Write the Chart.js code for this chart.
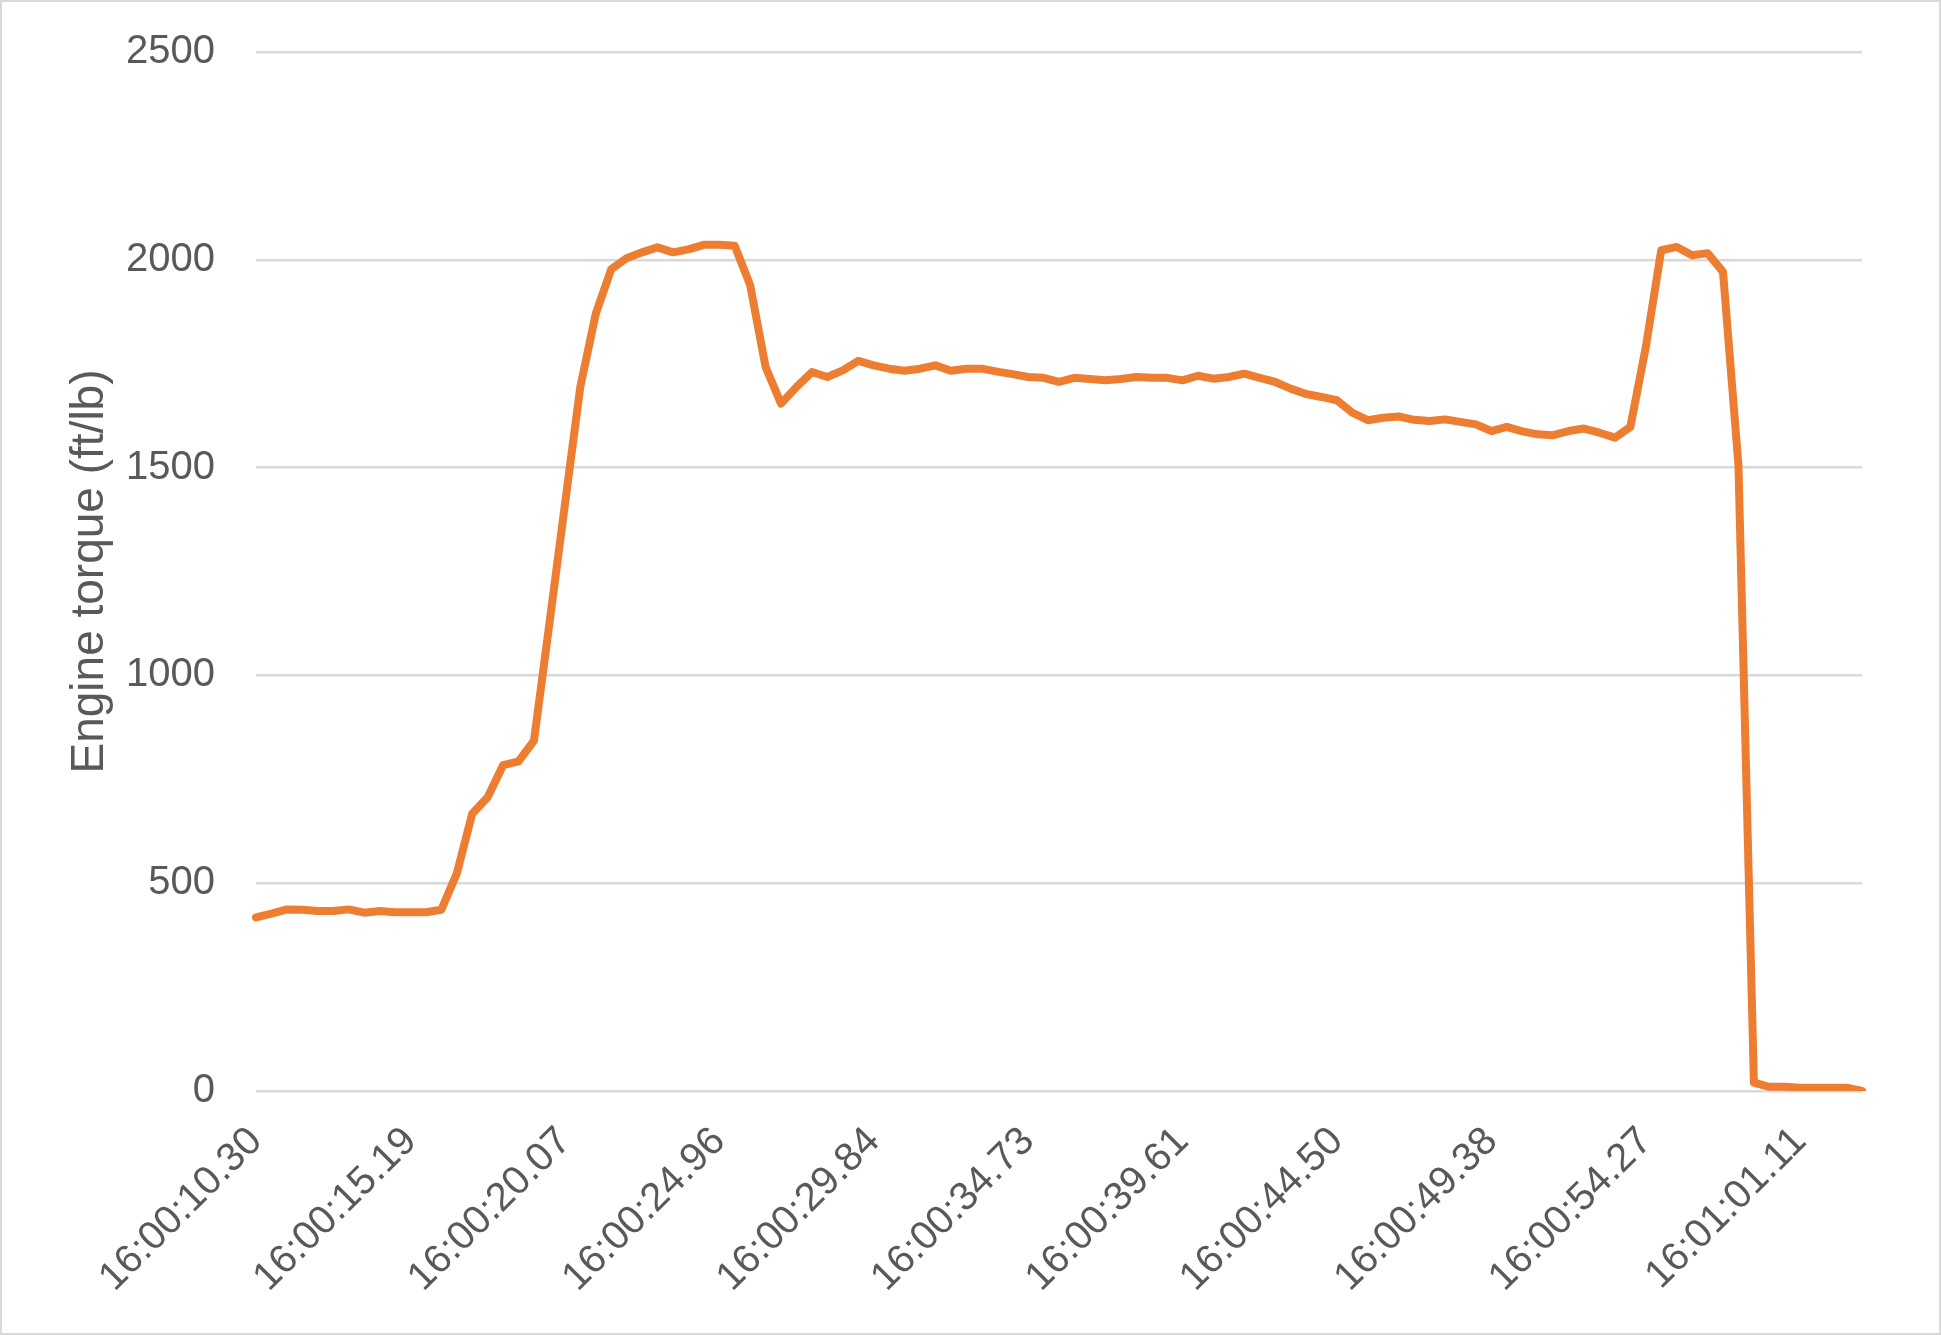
<!DOCTYPE html>
<html>
<head>
<meta charset="utf-8">
<title>Engine torque</title>
<script src="https://cdn.jsdelivr.net/npm/chart.js@4.4.1/dist/chart.umd.min.js"></script>
<style>
    html, body { margin: 0; padding: 0; background: #ffffff; }
    canvas { display: block; }
</style>
</head>
<body>
<canvas id="torqueChart" width="1941" height="1335"></canvas>
<script>
const tickLabels = ['16:00:10.30', '16:00:15.19', '16:00:20.07', '16:00:24.96', '16:00:29.84', '16:00:34.73',
    '16:00:39.61', '16:00:44.50', '16:00:49.38', '16:00:54.27', '16:01:01.11'];

// engine torque per sample (ft/lb)
const torque = [
    418, 427, 437, 436, 433, 433, 437, 429, 433, 430,
    430, 430, 436, 523, 667, 707, 784, 793, 843, 1125,
    1410, 1694, 1870, 1977, 2004, 2018, 2030, 2018, 2025, 2036,
    2036, 2034, 1939, 1742, 1654, 1694, 1730, 1718, 1734, 1757,
    1746, 1738, 1733, 1738, 1746, 1733, 1738, 1738, 1731, 1725,
    1718, 1716, 1706, 1716, 1713, 1710, 1713, 1718, 1716, 1716,
    1710, 1721, 1714, 1718, 1726, 1716, 1706, 1690, 1677, 1670,
    1662, 1632, 1614, 1620, 1623, 1615, 1612, 1616, 1610, 1604,
    1588, 1598, 1587, 1580, 1578, 1588, 1594, 1584, 1572, 1598,
    1790, 2023, 2031, 2011, 2016, 1971, 1505, 20, 10, 10,
    8, 8, 8, 8, 0
];

const labelEvery = 10;
const yMin = 0;
const yMax = 2500;
const yStep = 500;

const textColor = '#595959';
const gridColor = '#d9d9d9';
const fontFamily = '"Liberation Sans", Arial, sans-serif';

// white background and the thin frame round the whole picture
const framePlugin = {
    id: 'frame',
    beforeDraw: function(chart) {
        const c = chart.ctx;
        c.save();
        c.fillStyle = '#ffffff';
        c.fillRect(0, 0, chart.width, chart.height);
        c.strokeStyle = gridColor;
        c.lineWidth = 2;
        c.strokeRect(1, 1, chart.width - 2, chart.height - 2);
        c.restore();
    }
};

const ctx = document.getElementById('torqueChart').getContext('2d');
const torqueChart = new Chart(ctx, {
    type: 'line',
    data: {
        labels: torque.map(function(v, i) { return i; }),
        datasets: [{
            label: 'Engine torque',
            data: torque,
            borderColor: '#ed7d31',
            borderWidth: 8,
            borderJoinStyle: 'round',
            borderCapStyle: 'round',
            pointRadius: 0,
            tension: 0,
            fill: false
        }]
    },
    options: {
        responsive: false,
        devicePixelRatio: 1,
        animation: false,
        layout: {
            padding: { left: 0, right: 79, top: 52, bottom: 0 }
        },
        plugins: {
            legend: { display: false },
            tooltip: { enabled: false }
        },
        scales: {
            x: {
                type: 'category',
                offset: false,
                grid: { display: false, drawTicks: false },
                border: { display: false },
                ticks: {
                    autoSkip: false,
                    minRotation: 45,
                    maxRotation: 45,
                    padding: 27,
                    color: textColor,
                    font: { family: fontFamily, size: 40 },
                    callback: function(value, index) {
                        return index % labelEvery === 0 ? tickLabels[index / labelEvery] : null;
                    }
                },
                afterFit: function(scale) {
                    scale.height = 244;
                }
            },
            y: {
                min: yMin,
                max: yMax,
                grid: { color: gridColor, lineWidth: 2.5, drawTicks: false },
                border: { display: false },
                ticks: {
                    stepSize: yStep,
                    padding: 41,
                    color: textColor,
                    font: { family: fontFamily, size: 40 },
                    callback: function(value) {
                        return String(value);
                    }
                },
                title: {
                    display: true,
                    text: 'Engine torque (ft/lb)',
                    color: textColor,
                    font: { family: fontFamily, size: 46 },
                    padding: { top: 63, bottom: 0 }
                },
                afterFit: function(scale) {
                    scale.width = 256;
                    // the tick padding would otherwise push the plot top down
                    scale.paddingTop = 0;
                    scale.paddingBottom = 0;
                }
            }
        }
    },
    plugins: [framePlugin]
});
</script>
</body>
</html>
